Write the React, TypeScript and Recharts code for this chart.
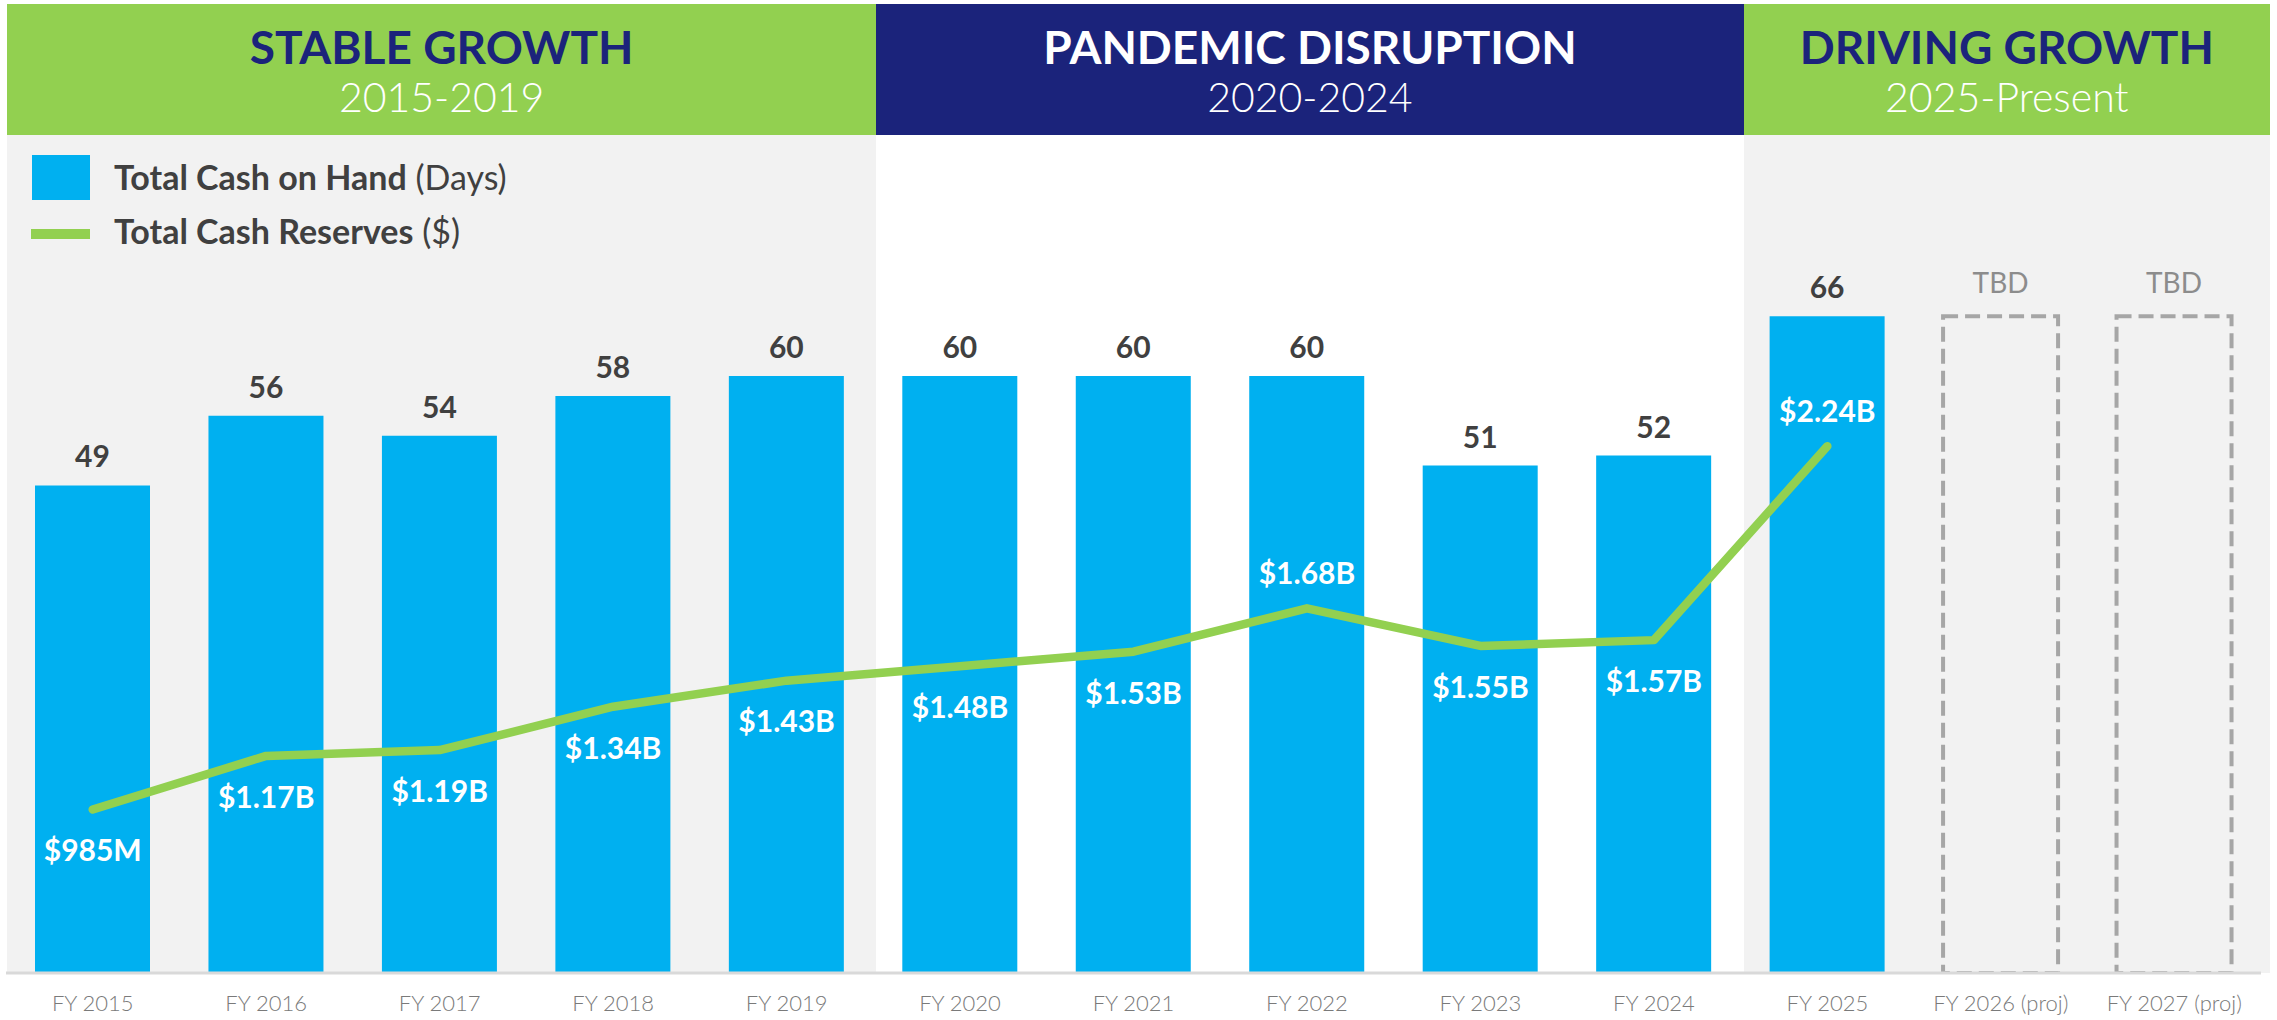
import React from 'react';
import { ComposedChart, Bar, Line, XAxis, YAxis, LabelList } from 'recharts';

const FISCAL_YEARS = [
  'FY 2015', 'FY 2016', 'FY 2017', 'FY 2018', 'FY 2019',
  'FY 2020', 'FY 2021', 'FY 2022', 'FY 2023', 'FY 2024',
  'FY 2025', 'FY 2026 (proj)', 'FY 2027 (proj)'
];
const CASH_DAYS = [49, 56, 54, 58, 60, 60, 60, 60, 51, 52, 66, null, null];
// projected years have no value yet, drawn as dashed placeholders
const PROJECTED_DAYS = [null, null, null, null, null, null, null, null, null, null, null, 66, 66];
const CASH_RESERVES_B = [0.985, 1.17, 1.19, 1.34, 1.43, 1.48, 1.53, 1.68, 1.55, 1.57, 2.24, null, null];
const RESERVE_LABELS = ['$985M', '$1.17B', '$1.19B', '$1.34B', '$1.43B', '$1.48B', '$1.53B', '$1.68B', '$1.55B', '$1.57B', '$2.24B', null, null];
const LABELS_ABOVE_LINE = ['FY 2022', 'FY 2025'];

const PHASES = [
  { title: 'STABLE GROWTH', years: '2015-2019', from: 0, to: 5, dark: false },
  { title: 'PANDEMIC DISRUPTION', years: '2020-2024', from: 5, to: 10, dark: true },
  { title: 'DRIVING GROWTH', years: '2025-Present', from: 10, to: 13, dark: false }
];

const FONT = "Lato, 'Noto Sans', sans-serif";
const BLUE = '#00b0f0';
const GREEN = '#92d050';
const NAVY = '#1b237b';
const PANEL_GRAY = '#f2f2f2';
const TEXT_DARK = '#404040';

const WIDTH = 2277;
const HEIGHT = 1020;
const PLOT_LEFT = 6;
const PLOT_RIGHT = 2261;
const PLOT_TOP = 177;
const AXIS_Y = 973;
const BAND = (PLOT_RIGHT - PLOT_LEFT) / FISCAL_YEARS.length;

const chartData = FISCAL_YEARS.map((year, i) => ({
  year,
  days: CASH_DAYS[i],
  projected: PROJECTED_DAYS[i],
  reserves: CASH_RESERVES_B[i],
  reserveLabel: RESERVE_LABELS[i]
}));

const phaseEdges = (from: number, to: number) => {
  const left = from === 0 ? 7 : PLOT_LEFT + from * BAND + 3;
  const right = to === FISCAL_YEARS.length ? WIDTH - 7 : PLOT_LEFT + to * BAND + 3;
  return { left, width: right - left };
};

const ReserveLabel = (props: any) => {
  const { x, y, value } = props;
  if (value == null || x == null || y == null) return null;
  const idx = RESERVE_LABELS.indexOf(value);
  const above = LABELS_ABOVE_LINE.includes(FISCAL_YEARS[idx]);
  return (
    <text
      x={x}
      y={y + (above ? -35 : 41)}
      dy="0.36em"
      textAnchor="middle"
      fill="#ffffff"
      fontFamily={FONT}
      fontWeight={700}
      fontSize={30}
    >
      {value}
    </text>
  );
};

export default function App() {
  return (
    <div style={{ position: 'absolute', left: 0, top: 0, width: WIDTH, height: HEIGHT, background: '#fff', fontFamily: FONT, overflow: 'hidden' }}>
      {/* phase backgrounds */}
      {PHASES.map(p => {
        const e = phaseEdges(p.from, p.to);
        return (
          <div
            key={`bg-${p.title}`}
            style={{ position: 'absolute', left: e.left, width: e.width, top: 135, height: AXIS_Y - 135, background: p.dark ? '#ffffff' : PANEL_GRAY }}
          />
        );
      })}

      <div style={{ position: 'absolute', left: 0, top: 0 }}>
        <ComposedChart
          width={WIDTH}
          height={HEIGHT}
          data={chartData}
          margin={{ top: PLOT_TOP, right: WIDTH - PLOT_RIGHT, left: PLOT_LEFT, bottom: 0 }}
        >
          <XAxis
            dataKey="year"
            interval={0}
            height={HEIGHT - AXIS_Y}
            tickLine={false}
            tickMargin={16}
            axisLine={{ stroke: '#d9d9d9', strokeWidth: 3 }}
            tick={{ fill: '#7a7a7a', fontSize: 22, fontFamily: FONT, fontWeight: 300 }}
          />
          <YAxis yAxisId="days" hide domain={[0, 80]} allowDataOverflow />
          <YAxis yAxisId="reserves" hide orientation="right" domain={[0.42, 3.17]} allowDataOverflow />
          <Bar yAxisId="days" dataKey="days" stackId="days" fill={BLUE} barSize={115} isAnimationActive={false}>
            <LabelList
              dataKey="days"
              position="top"
              offset={18}
              fill={TEXT_DARK}
              fontSize={30}
              fontWeight={700}
              fontFamily={FONT}
            />
          </Bar>
          <Bar
            yAxisId="days"
            dataKey="projected"
            stackId="days"
            fill="none"
            stroke="#a6a6a6"
            strokeWidth={4}
            strokeDasharray="15 7"
            barSize={115}
            isAnimationActive={false}
          >
            <LabelList
              dataKey="projected"
              position="top"
              offset={23}
              formatter={() => 'TBD'}
              fill="#8c8c8c"
              fontSize={28}
              fontWeight={400}
              fontFamily={FONT}
            />
          </Bar>
          <Line
            yAxisId="reserves"
            dataKey="reserves"
            stroke={GREEN}
            strokeWidth={8.5}
            strokeLinecap="round"
            strokeLinejoin="round"
            dot={false}
            activeDot={false}
            isAnimationActive={false}
          >
            <LabelList dataKey="reserveLabel" content={ReserveLabel} />
          </Line>
        </ComposedChart>
      </div>

      {/* phase headers */}
      {PHASES.map(p => {
        const e = phaseEdges(p.from, p.to);
        return (
          <div
            key={`hd-${p.title}`}
            style={{ position: 'absolute', left: e.left, width: e.width, top: 4, height: 131, background: p.dark ? NAVY : GREEN, textAlign: 'center' }}
          >
            <div style={{ position: 'absolute', left: 0, right: 0, top: 20, lineHeight: '46px', fontSize: 46, fontWeight: 700, color: p.dark ? '#ffffff' : NAVY }}>
              {p.title}
            </div>
            <div style={{ position: 'absolute', left: 0, right: 0, top: 73, lineHeight: '40px', fontSize: 41, fontWeight: 300, color: '#ffffff' }}>
              {p.years}
            </div>
          </div>
        );
      })}

      {/* legend */}
      <div style={{ position: 'absolute', left: 32, top: 155, width: 58, height: 45, background: BLUE }} />
      <div style={{ position: 'absolute', left: 31, top: 229, width: 59, height: 10, background: GREEN }} />
      <div style={{ position: 'absolute', left: 114, top: 159, lineHeight: '36px', fontSize: 34, color: TEXT_DARK, whiteSpace: 'nowrap' }}>
        <span style={{ fontWeight: 700 }}>Total Cash on Hand</span> <span style={{ fontWeight: 400 }}>(Days)</span>
      </div>
      <div style={{ position: 'absolute', left: 114, top: 213, lineHeight: '36px', fontSize: 34, color: TEXT_DARK, whiteSpace: 'nowrap' }}>
        <span style={{ fontWeight: 700 }}>Total Cash Reserves</span> <span style={{ fontWeight: 400 }}>($)</span>
      </div>
    </div>
  );
}
